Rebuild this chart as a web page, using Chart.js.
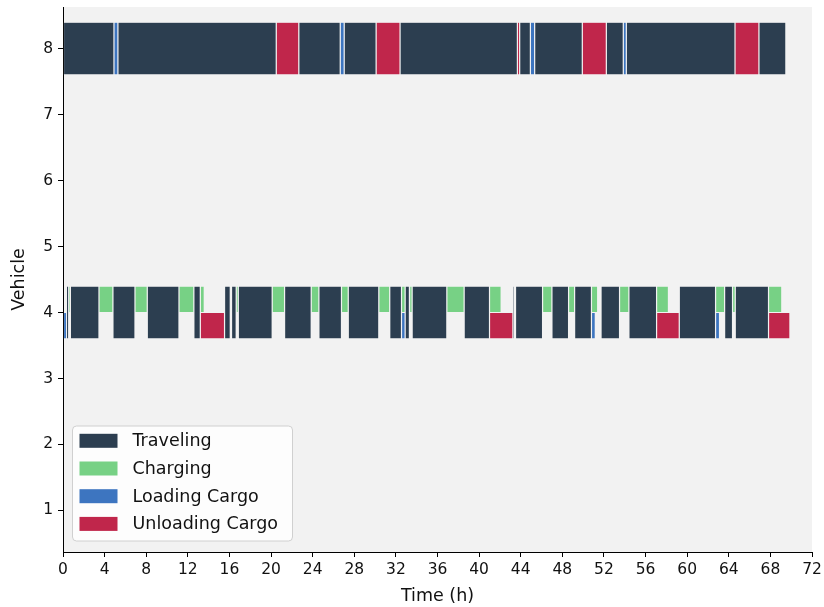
<!DOCTYPE html>
<html>
<head>
<meta charset="utf-8">
<script src="https://cdn.jsdelivr.net/npm/chart.js@4.4.1/dist/chart.umd.min.js"></script>
<style>
  html, body { margin: 0; padding: 0; background: #ffffff; }
  canvas { display: block; }
</style>
</head>
<body>
<canvas id="schedule" width="824" height="607"></canvas>
<script>
// ---- data -------------------------------------------------------------
const timeTicks = [0, 4, 8, 12, 16, 20, 24, 28, 32, 36, 40, 44, 48, 52, 56, 60, 64, 68, 72];
const vehicleTicks = [1, 2, 3, 4, 5, 6, 7, 8];
const activityNames = ['Traveling', 'Charging', 'Loading Cargo', 'Unloading Cargo'];

// vehicle 4 activity intervals [start h, end h]
const v4Traveling = [
  [0.33, 0.55], [0.71, 3.46], [4.8, 6.92], [8.1, 11.15], [12.58, 13.2],
  [15.53, 16.08], [16.2, 16.65], [16.85, 20.11], [21.3, 23.86], [24.6, 26.77],
  [27.42, 30.36], [31.41, 32.54], [32.89, 33.3], [33.56, 36.9], [38.56, 41.0],
  [43.25, 43.4], [43.5, 46.1], [47.0, 48.6], [49.18, 50.8], [51.47, 51.58],
  [51.72, 53.5], [54.4, 57.06], [59.24, 62.73], [63.6, 64.36], [64.62, 67.82]
];
const v4Charging = [
  [0.55, 0.71], [3.46, 4.8], [6.92, 8.1], [11.15, 12.58], [13.2, 13.58],
  [16.08, 16.2], [16.65, 16.85], [20.11, 21.3], [23.86, 24.6], [26.77, 27.42],
  [30.36, 31.41], [32.54, 32.89], [33.32, 33.56], [36.9, 38.56], [41.0, 42.12],
  [46.1, 47.0], [48.6, 49.18], [50.8, 51.4], [53.5, 54.4], [57.06, 58.2],
  [62.73, 63.6], [64.36, 64.62], [67.82, 69.1]
];
const v4Loading = [[0, 0.35], [32.54, 32.89], [50.8, 51.17], [62.73, 63.11]];
const v4Unloading = [[13.2, 15.53], [23.86, 23.96], [41.0, 43.25], [57.06, 59.24], [67.82, 69.88]];

// vehicle 8 activity intervals [start h, end h]
const v8Traveling = [
  [0, 4.9], [5.28, 20.5], [22.67, 26.65], [27.03, 30.1], [32.4, 43.68],
  [43.9, 44.93], [45.34, 49.92], [52.23, 53.86], [54.15, 64.6], [66.9, 69.49]
];
const v8Loading = [[4.9, 5.28], [26.65, 27.03], [44.93, 45.34], [53.86, 54.15]];
const v8Unloading = [[20.5, 22.67], [30.1, 32.4], [43.68, 43.9], [49.92, 52.23], [64.6, 66.9]];

// ---- styling ----------------------------------------------------------
const COLORS = {
  'Traveling': '#2c3e50',
  'Charging': '#77d185',
  'Loading Cargo': '#3d75c0',
  'Unloading Cargo': '#c0264b'
};
const FONT = 'DejaVu Sans';

// Lanes: a full bar spans 0.8 of a vehicle row; when charging and cargo
// handling share a row, charging takes the upper half and cargo the lower.
const LANE_STEP = 0.2;           // smallest spacing between bar centres
const FULL = 0.8 / LANE_STEP;
const HALF = 0.4 / LANE_STEP;

function bars(vehicle, segments, offset) {
  return segments.map(([s, e]) => ({ x: [s, e], y: vehicle + offset }));
}

function series(label, data, pct, inLegend) {
  return {
    label,
    data,
    backgroundColor: COLORS[label],
    borderColor: 'rgba(255,255,255,0.2)',
    borderWidth: 0.6,
    borderSkipped: false,
    barPercentage: pct,
    categoryPercentage: 1,
    inLegend
  };
}

const datasets = [
  series('Traveling', [...bars(4, v4Traveling, 0), ...bars(8, v8Traveling, 0)], FULL, true),
  series('Charging', bars(4, v4Charging, LANE_STEP), HALF, true),
  series('Loading Cargo', bars(4, v4Loading, -LANE_STEP), HALF, true),
  series('Unloading Cargo', bars(4, v4Unloading, -LANE_STEP), HALF, true),
  series('Loading Cargo', bars(8, v8Loading, 0), FULL, false),
  series('Unloading Cargo', bars(8, v8Unloading, 0), FULL, false)
];

// ---- plugins ----------------------------------------------------------
const plotBackground = {
  id: 'plotBackground',
  beforeDraw(chart) {
    const { ctx, chartArea: a } = chart;
    ctx.save();
    ctx.fillStyle = '#ffffff';
    ctx.fillRect(0, 0, chart.width, chart.height);
    ctx.fillStyle = '#f2f2f2';
    ctx.fillRect(a.left, a.top, a.right - a.left, a.bottom - a.top);
    ctx.restore();
  }
};

const boxLegend = {
  id: 'boxLegend',
  afterDraw(chart) {
    const { ctx, chartArea: a } = chart;
    const items = chart.data.datasets.filter(d => d.inLegend);
    const x = a.left + 9.5, w = 220;
    const rowH = 27.7, fontPx = 17.5;
    const y = a.bottom - 126, h = 115;
    ctx.save();
    ctx.beginPath();
    ctx.roundRect(x, y, w, h, 4);
    ctx.fillStyle = 'rgba(255,255,255,0.8)';
    ctx.fill();
    ctx.lineWidth = 1;
    ctx.strokeStyle = '#d0d0d0';
    ctx.stroke();
    ctx.font = fontPx + 'px "' + FONT + '"';
    ctx.textBaseline = 'middle';
    ctx.textAlign = 'left';
    items.forEach((d, i) => {
      const cy = y + 14.8 + i * rowH;
      ctx.fillStyle = d.backgroundColor;
      ctx.fillRect(x + 7, cy - 7, 38, 14);
      ctx.fillStyle = '#111111';
      ctx.fillText(d.label, x + 60, cy + 1);
    });
    ctx.restore();
  }
};

// ---- chart ------------------------------------------------------------
const axisGrid = {
  offset: false,
  drawOnChartArea: false,
  drawTicks: true,
  tickLength: 5,
  color: '#000000',
  tickWidth: 1
};

new Chart(document.getElementById('schedule'), {
  type: 'bar',
  data: { datasets },
  plugins: [plotBackground, boxLegend],
  options: {
    responsive: false,
    animation: false,
    indexAxis: 'y',
    grouped: false,
    layout: { padding: { top: 7, right: 12, bottom: 0, left: 0 } },
    plugins: {
      legend: { display: false },
      tooltip: { enabled: false }
    },
    scales: {
      x: {
        type: 'linear',
        min: 0,
        max: 72,
        offset: false,
        afterBuildTicks: s => { s.ticks = timeTicks.map(v => ({ value: v })); },
        afterFit: s => { s.height = 55; s.paddingLeft = 0; s.paddingRight = 0; },
        ticks: {
          color: '#111111',
          font: { family: FONT, size: 15.5 },
          padding: 4,
          maxRotation: 0,
          autoSkip: false
        },
        grid: axisGrid,
        border: { display: true, color: '#000000', width: 1 },
        title: {
          display: true,
          text: 'Time (h)',
          color: '#111111',
          font: { family: FONT, size: 17.5 },
          padding: { top: 0, bottom: 0 }
        }
      },
      y: {
        type: 'linear',
        min: 0.37,
        max: 8.63,
        offset: false,
        afterBuildTicks: s => { s.ticks = vehicleTicks.map(v => ({ value: v })); },
        afterFit: s => { s.width = 63; s.paddingTop = 0; s.paddingBottom = 0; },
        ticks: {
          color: '#111111',
          font: { family: FONT, size: 15.5 },
          padding: 5,
          autoSkip: false
        },
        grid: axisGrid,
        border: { display: true, color: '#000000', width: 1 },
        title: {
          display: true,
          text: 'Vehicle',
          color: '#111111',
          font: { family: FONT, size: 17.5 },
          padding: { top: 9, bottom: 0 }
        }
      }
    }
  }
});
</script>
</body>
</html>
